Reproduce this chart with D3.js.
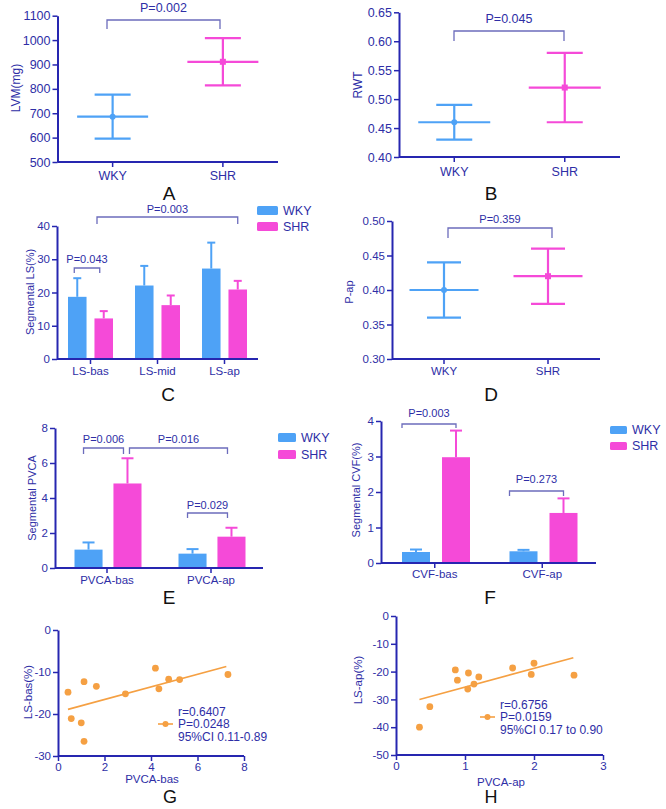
<!DOCTYPE html>
<html>
<head>
<meta charset="utf-8">
<script src="https://cdn.jsdelivr.net/npm/d3@7"></script>
<style>
  body { margin: 0; background: #fff; }
</style>
</head>
<body>
<svg id="fig" width="666" height="809"></svg>
<script>
// ---- data ----
const groups = ["WKY", "SHR"];

const lvmMean = [686, 911], lvmSd = [90, 97];
const rwtMean = [0.46, 0.52], rwtSd = [0.03, 0.06];
const papMean = [0.40, 0.42], papSd = [0.04, 0.04];

const lsCats = ["LS-bas", "LS-mid", "LS-ap"];
const lsWky = [18.7, 22.1, 27.2], lsWkySd = [5.6, 5.9, 7.8];
const lsShr = [12.2, 16.2, 20.9], lsShrSd = [2.2, 2.9, 2.6];

const pvcaCats = ["PVCA-bas", "PVCA-ap"];
const pvcaWky = [1.05, 0.82], pvcaWkySd = [0.41, 0.26];
const pvcaShr = [4.83, 1.79], pvcaShrSd = [1.44, 0.51];

const cvfCats = ["CVF-bas", "CVF-ap"];
const cvfWky = [0.31, 0.33], cvfWkySd = [0.07, 0.04];
const cvfShr = [2.98, 1.41], cvfShrSd = [0.75, 0.41];

const gX = [0.43, 0.57, 1.0, 1.12, 1.12, 1.65, 2.9, 4.19, 4.34, 4.76, 5.23, 7.31];
const gY = [-14.8, -21.1, -22.1, -12.3, -26.5, -13.4, -15.2, -9.1, -14.0, -11.7, -11.8, -10.6];
const gFitX = [0.43, 7.24], gFitY = [-18.9, -8.7];
const gStats = ["r=0.6407", "P=0.0248", "95%CI 0.11-0.89"];

const hX = [0.34, 0.49, 0.86, 0.89, 1.04, 1.05, 1.13, 1.20, 1.69, 1.96, 2.0, 2.58];
const hY = [-40.0, -32.6, -19.4, -23.1, -26.3, -20.5, -24.5, -21.9, -18.7, -21.0, -17.0, -21.3];
const hFitX = [0.34, 2.57], hFitY = [-30.0, -15.0];
const hStats = ["r=0.6756", "P=0.0159", "95%CI 0.17 to 0.90"];

// ---- style ----
const FONT = "'Liberation Sans', Arial, sans-serif";
const AX = "#2626b0", TX = "#2e2ea6", BR = "#6c6cbc";
const BLUE = "#4ea2f6", PINK = "#f54ad8", ORANGE = "#f5a043";
const color = d3.scaleOrdinal().domain(groups).range([BLUE, PINK]);
const intFmt = function (d) { return String(d); };   // plain hyphen minus like the original

const svg = d3.select("#fig");
svg.append("rect").attr("width", 666).attr("height", 809).attr("fill", "#fff");

function styleAxis(ax, fs) {
  ax.attr("font-family", FONT).attr("font-size", fs);
  ax.select(".domain").attr("stroke", AX).attr("stroke-width", 2);
  ax.selectAll(".tick line").attr("stroke", AX).attr("stroke-width", 1.5);
  ax.selectAll(".tick text").attr("fill", TX);
}

function yAxis(y, x0, ticks, fmt, fs) {
  const ax = svg.append("g").attr("transform", "translate(" + x0 + ",0)")
    .call(d3.axisLeft(y).tickValues(ticks).tickFormat(fmt).tickSize(5).tickSizeOuter(0).tickPadding(2));
  styleAxis(ax, fs);
}

function xAxis(x, y0, fs, pad, ticks, fmt) {
  let a = d3.axisBottom(x).tickSize(5).tickSizeOuter(0).tickPadding(pad);
  if (ticks) a = a.tickValues(ticks).tickFormat(fmt);
  const ax = svg.append("g").attr("transform", "translate(0," + y0 + ")").call(a);
  styleAxis(ax, fs);
  ax.select(".domain").attr("d", "M" + x.range()[0] + ",0H" + x.range()[1]);
}

function yLabel(txt, x, y, fs) {
  svg.append("text").attr("transform", "translate(" + x + "," + y + ") rotate(-90)")
    .attr("text-anchor", "middle").attr("dy", "0.35em")
    .attr("font-family", FONT).attr("font-size", fs).attr("fill", TX).text(txt);
}

function plainText(txt, x, y, fs, fill, anchor) {
  svg.append("text").attr("x", x).attr("y", y).attr("text-anchor", anchor || "middle")
    .attr("dy", "0.35em").attr("font-family", FONT).attr("font-size", fs)
    .attr("fill", fill || TX).text(txt);
}

function bracket(x1, x2, yTop, drop, label, fs, gap) {
  svg.append("path")
    .attr("d", "M" + x1 + "," + (yTop + drop) + "V" + yTop + "H" + x2 + "V" + (yTop + drop))
    .attr("fill", "none").attr("stroke", BR).attr("stroke-width", 1.3);
  plainText(label, (x1 + x2) / 2, yTop - gap, fs);
}

function panelLetter(ch, x, y, fs) {
  plainText(ch, x, y, fs || 19, "#111");
}

// ---- mean +/- SD panels (A, B, D) ----
function meanPanel(o) {
  const x = d3.scaleBand().domain(groups).range([o.x0, o.x1]);
  const y = d3.scaleLinear().domain(o.domain).range([o.yBot, o.yTop]);
  const g = svg.append("g");
  groups.forEach(function (k, i) {
    const cx = x(k) + x.bandwidth() / 2;
    const m = o.mean[i], s = o.sd[i];
    const c = color(k);
    g.append("line").attr("x1", cx).attr("x2", cx).attr("y1", y(m - s)).attr("y2", y(m + s))
      .attr("stroke", c).attr("stroke-width", 2.2);
    g.append("line").attr("x1", cx - o.meanW).attr("x2", cx + o.meanW).attr("y1", y(m)).attr("y2", y(m))
      .attr("stroke", c).attr("stroke-width", 2.2);
    [m - s, m + s].forEach(function (v) {
      g.append("line").attr("x1", cx - o.capW).attr("x2", cx + o.capW).attr("y1", y(v)).attr("y2", y(v))
        .attr("stroke", c).attr("stroke-width", 2.2);
    });
    if (i === 0) {
      g.append("circle").attr("cx", cx).attr("cy", y(m)).attr("r", 3).attr("fill", c);
    } else {
      g.append("rect").attr("x", cx - 3).attr("y", y(m) - 3).attr("width", 6).attr("height", 6).attr("fill", c);
    }
  });
  yAxis(y, o.x0, o.ticks, o.fmt, o.fs);
  xAxis(x, o.yBot, o.fs, o.pad);
  return { x: x, y: y };
}

// ---- grouped bar panels (C, E, F) ----
function barPanel(o) {
  const x = d3.scaleBand().domain(o.cats).range([o.x0, o.x1]);
  const xi = d3.scaleBand().domain(groups).range(o.inner).paddingInner(o.gapP);
  const y = d3.scaleLinear().domain(o.domain).range([o.yBot, o.yTop]);
  const rows = [];
  o.cats.forEach(function (c, j) {
    rows.push({ cat: c, key: "WKY", v: o.wky[j], s: o.wkySd[j] });
    rows.push({ cat: c, key: "SHR", v: o.shr[j], s: o.shrSd[j] });
  });
  const g = svg.append("g");
  const bx = function (d) { return x(d.cat) + xi(d.key); };
  const bc = function (d) { return bx(d) + xi.bandwidth() / 2; };
  g.selectAll("line.err").data(rows).join("line").attr("class", "err")
    .attr("x1", bc).attr("x2", bc).attr("y1", function (d) { return y(d.v); })
    .attr("y2", function (d) { return y(d.v + d.s); })
    .attr("stroke", function (d) { return color(d.key); }).attr("stroke-width", 2);
  g.selectAll("line.cap").data(rows).join("line").attr("class", "cap")
    .attr("x1", function (d) { return bc(d) - o.capW; }).attr("x2", function (d) { return bc(d) + o.capW; })
    .attr("y1", function (d) { return y(d.v + d.s); }).attr("y2", function (d) { return y(d.v + d.s); })
    .attr("stroke", function (d) { return color(d.key); }).attr("stroke-width", 2);
  g.selectAll("rect.bar").data(rows).join("rect").attr("class", "bar")
    .attr("x", bx).attr("width", xi.bandwidth())
    .attr("y", function (d) { return y(d.v); })
    .attr("height", function (d) { return y(0) - y(d.v); })
    .attr("fill", function (d) { return color(d.key); });
  yAxis(y, o.x0, o.ticks, intFmt, o.fs);
  xAxis(x, o.yBot, o.fs, o.pad);
  // legend
  groups.forEach(function (k, i) {
    svg.append("rect").attr("x", o.legX).attr("y", o.legY + i * o.legStep)
      .attr("width", o.legW).attr("height", o.legH).attr("rx", 1.5).attr("fill", color(k));
    plainText(k, o.legX + o.legW + 5, o.legY + i * o.legStep + o.legH / 2, 12.5, TX, "start");
  });
  return { x: x, xi: xi, y: y, bc: function (c, k) { return x(c) + xi(k) + xi.bandwidth() / 2; },
           bl: function (c, k) { return x(c) + xi(k); } };
}

// ---- scatter panels (G, H) ----
function scatterPanel(o) {
  const x = d3.scaleLinear().domain(o.xd).range([o.x0, o.x1]);
  const y = d3.scaleLinear().domain(o.yd).range([o.yBot, o.yTop]);
  const line = d3.line().x(function (d) { return x(d[0]); }).y(function (d) { return y(d[1]); });
  svg.append("path").datum(d3.zip(o.fitX, o.fitY)).attr("d", line)
    .attr("fill", "none").attr("stroke", ORANGE).attr("stroke-width", 1.6);
  svg.append("g").selectAll("circle").data(d3.zip(o.px, o.py)).join("circle")
    .attr("cx", function (d) { return x(d[0]); }).attr("cy", function (d) { return y(d[1]); })
    .attr("r", 3.4).attr("fill", ORANGE);
  yAxis(y, o.x0, o.yt, intFmt, 11.5);
  xAxis(x, o.yBot, 11.5, 2, o.xt, intFmt);
  // legend
  svg.append("line").attr("x1", o.legX).attr("x2", o.legX + 15).attr("y1", o.legY).attr("y2", o.legY)
    .attr("stroke", ORANGE).attr("stroke-width", 1.6);
  svg.append("circle").attr("cx", o.legX + 7.5).attr("cy", o.legY).attr("r", 3).attr("fill", ORANGE);
  o.stats.forEach(function (s, i) {
    plainText(s, o.legX + 20, o.legY + (i - 1) * o.legStep, 12, TX, "start");
  });
}

// ---------------- A ----------------
meanPanel({ mean: lvmMean, sd: lvmSd, x0: 57.5, x1: 278, yTop: 15.7, yBot: 162,
  domain: [500, 1100], ticks: d3.range(500, 1101, 100), fmt: intFmt,
  fs: 12.5, pad: 4, meanW: 35.5, capW: 18 });
yLabel("LVM(mg)", 16, 88, 12);
bracket(107, 220, 20, 9, "P=0.002", 12.5, 12);
panelLetter("A", 169, 193);

// ---------------- B ----------------
meanPanel({ mean: rwtMean, sd: rwtSd, x0: 399, x1: 620, yTop: 12.3, yBot: 157,
  domain: [0.40, 0.65], ticks: d3.range(0.40, 0.651, 0.05), fmt: d3.format(".2f"),
  fs: 12.5, pad: 5, meanW: 36, capW: 18 });
yLabel("RWT", 358, 85, 12);
bracket(454, 564, 31, 10, "P=0.045", 12.5, 12);
panelLetter("B", 491, 193);

// ---------------- C ----------------
const pc = barPanel({ cats: lsCats, wky: lsWky, wkySd: lsWkySd, shr: lsShr, shrSd: lsShrSd,
  x0: 57, x1: 258, yTop: 226, yBot: 359, domain: [0, 40], ticks: [0, 10, 20, 30, 40],
  inner: [11, 56], gapP: 0.3, capW: 4, fs: 11.5, pad: 3,
  legX: 257, legY: 206, legStep: 16, legW: 21, legH: 9 });
yLabel("Segmental LS(%)", 30, 292, 11);
bracket(97, pc.bc("LS-ap", "SHR"), 217, 7, "P=0.003", 11, 8);
bracket(pc.bc("LS-bas", "WKY") - 3, pc.bc("LS-bas", "SHR") - 4, 268, 5, "P=0.043", 11, 9);
panelLetter("C", 168, 394);

// ---------------- D ----------------
meanPanel({ mean: papMean, sd: papSd, x0: 392, x1: 600, yTop: 221, yBot: 359,
  domain: [0.30, 0.50], ticks: d3.range(0.30, 0.501, 0.05), fmt: d3.format(".2f"),
  fs: 11.5, pad: 3, meanW: 34.5, capW: 17 });
yLabel("P-ap", 349, 292, 11);
bracket(448, 552, 228, 10, "P=0.359", 11, 9);
panelLetter("D", 491, 394);

// ---------------- E ----------------
const pe = barPanel({ cats: pvcaCats, wky: pvcaWky, wkySd: pvcaWkySd, shr: pvcaShr, shrSd: pvcaShrSd,
  x0: 55, x1: 263, yTop: 428, yBot: 568, domain: [0, 8], ticks: [0, 2, 4, 6, 8],
  inner: [19.5, 86.5], gapP: 0.28, capW: 6, fs: 11.5, pad: 3,
  legX: 278, legY: 433, legStep: 17, legW: 18, legH: 9 });
yLabel("Segmental PVCA", 32, 498, 11);
bracket(pe.bc("PVCA-bas", "WKY") - 5, pe.bc("PVCA-bas", "SHR") - 4, 448, 6, "P=0.006", 11, 9);
bracket(pe.bc("PVCA-bas", "SHR") + 2, pe.bc("PVCA-ap", "SHR") - 4, 448, 6, "P=0.016", 11, 9);
bracket(pe.bc("PVCA-ap", "WKY") - 5, pe.bc("PVCA-ap", "SHR") - 4, 513, 5, "P=0.029", 11, 8);
panelLetter("E", 169, 597);

// ---------------- F ----------------
const pf = barPanel({ cats: cvfCats, wky: cvfWky, wkySd: cvfWkySd, shr: cvfShr, shrSd: cvfShrSd,
  x0: 381, x1: 596, yTop: 421, yBot: 563, domain: [0, 4], ticks: [0, 1, 2, 3, 4],
  inner: [21, 89], gapP: 0.3, capW: 6, fs: 11.5, pad: 2,
  legX: 610, legY: 426, legStep: 16, legW: 17, legH: 8 });
yLabel("Segmental CVF(%)", 356, 490, 11);
bracket(pf.bl("CVF-bas", "WKY"), pf.bc("CVF-bas", "SHR"), 424, 4, "P=0.003", 11, 11);
bracket(pf.bl("CVF-ap", "WKY"), pf.bc("CVF-ap", "SHR"), 491, 5, "P=0.273", 11, 12);
panelLetter("F", 490, 597);

// ---------------- G ----------------
scatterPanel({ px: gX, py: gY, fitX: gFitX, fitY: gFitY, stats: gStats,
  xd: [0, 8], yd: [-30, 0], x0: 58, x1: 244, yTop: 630, yBot: 756,
  xt: [0, 2, 4, 6, 8], yt: [0, -10, -20, -30], legX: 158, legY: 724, legStep: 12.5 });
yLabel("LS-bas(%)", 28, 692, 11.5);
plainText("PVCA-bas", 152, 779, 11.5);
panelLetter("G", 170, 797, 18);

// ---------------- H ----------------
scatterPanel({ px: hX, py: hY, fitX: hFitX, fitY: hFitY, stats: hStats,
  xd: [0, 3], yd: [-50, 0], x0: 396, x1: 603, yTop: 616, yBot: 755,
  xt: [0, 1, 2, 3], yt: [0, -10, -20, -30, -40, -50], legX: 480, legY: 717, legStep: 12.5 });
yLabel("LS-ap(%)", 358, 680, 11.5);
plainText("PVCA-ap", 501, 782, 11.5);
panelLetter("H", 491, 797, 18);
</script>
</body>
</html>
